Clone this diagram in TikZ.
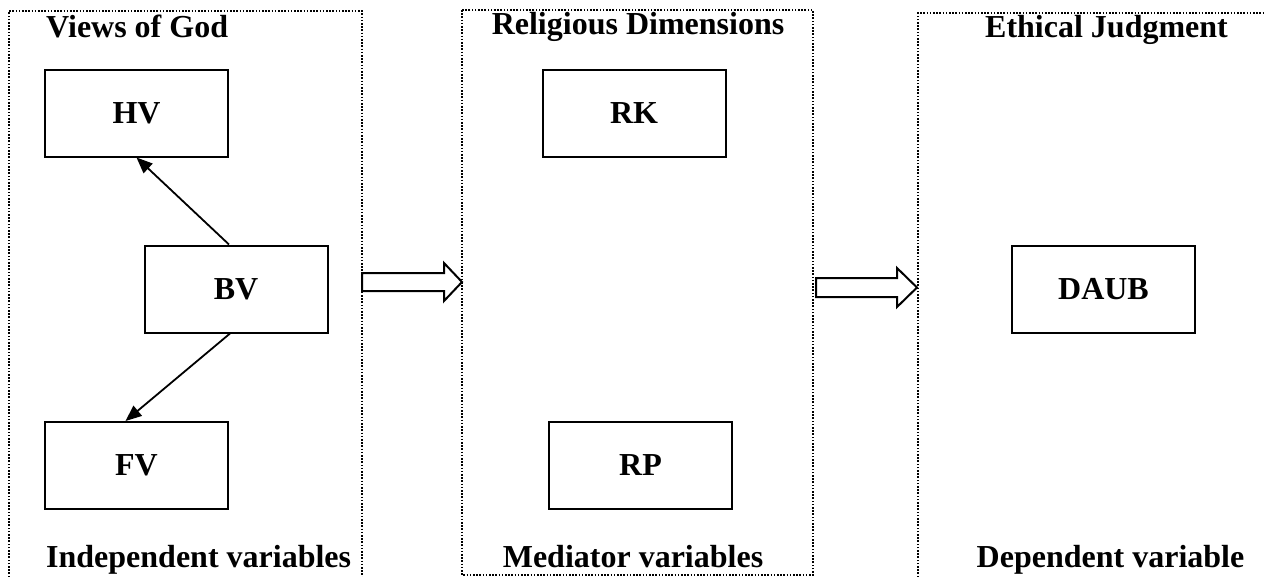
\documentclass[tikz,border=0pt]{standalone}
\usepackage{fontspec}
\setmainfont{Liberation Serif}
\usetikzlibrary{arrows.meta}
\begin{document}
\begin{tikzpicture}[x=1pt,y=-1pt,
  panel/.style={line width=2pt,dash pattern=on 1.6pt off 1.6pt},
  title/.style={inner sep=0pt,font=\fontsize{32}{38}\selectfont\bfseries},
  varbox/.style={draw,line width=2pt,minimum width=183pt,minimum height=87pt,inner sep=0pt,font=\fontsize{32}{38}\selectfont\bfseries},
  link/.style={line width=1.8pt,-{Triangle[length=16pt,width=13pt]}},
  bigarrow/.style={draw,line width=2pt,fill=white,line join=miter}]
\useasboundingbox (0,0) rectangle (1265,576);
% panels
\draw[panel] (9,590) -- (9,11) -- (362,11) -- (362,590);
\draw[panel] (462,10) rectangle (813,575);
\draw[panel] (918,590) -- (918,13) -- (1275,13);
% panel titles
\node[title,anchor=base west] (t1) at (46,37) {Views of God};
\node[title,anchor=base west] (b1) at (46,567) {Independent variables};
\node[title,anchor=base] (t2) at (638,34) {Religious Dimensions};
\node[title,anchor=base] (b2) at (633,567) {Mediator variables};
\node[title,anchor=base] (t3) at (1106.5,37) {Ethical Judgment};
\node[title,anchor=base] (b3) at (1110.5,567) {Dependent variable};
% boxes
\node[varbox] (HV) at (136.5,113) {HV};
\node[varbox] (BV) at (236,289) {BV};
\node[varbox] (FV) at (136.5,465.5) {FV};
\node[varbox] (RK) at (634,113) {RK};
\node[varbox] (RP) at (640.5,465) {RP};
\node[varbox] (DAUB) at (1103.5,289.5) {DAUB};
% links
\draw[link] ([xshift=-7pt]BV.north) -- (HV.south);
\draw[link] ([xshift=-6pt]BV.south) -- ([xshift=-11pt]FV.north);
% hollow arrows
\draw[bigarrow] (362,273) -- (444,273) -- (444,263) -- (462,282) -- (444,301) -- (444,291) -- (362,291) -- cycle;
\draw[bigarrow] (816,278) -- (897,278) -- (897,268) -- (917,287.5) -- (897,307) -- (897,297) -- (816,297) -- cycle;
\end{tikzpicture}
\end{document}
